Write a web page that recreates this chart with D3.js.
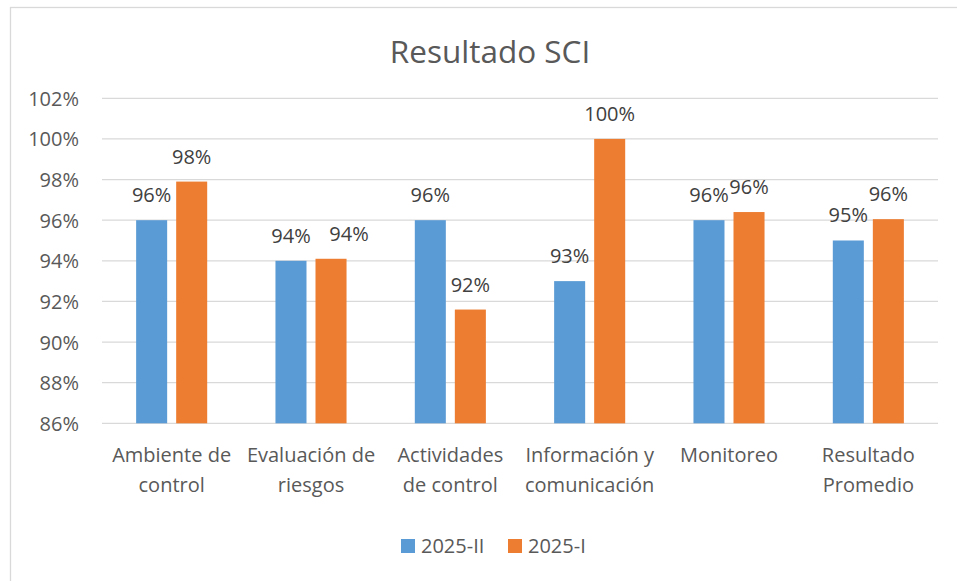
<!DOCTYPE html>
<meta charset="utf-8">
<style>
body { margin: 0; background: #fff; }
text { font-family: "Open Sans", sans-serif; }
.grid line { stroke: #d9d9d9; stroke-width: 1.3; }
.ylab text { fill: #595959; font-size: 20px; }
.xlab text { fill: #595959; font-size: 20px; }
.val { fill: #404040; font-size: 20px; }
</style>
<svg width="957" height="581"></svg>
<script src="https://d3js.org/d3.v7.min.js"></script>
<script>

var categories = [
  ["Ambiente de", "control"],
  ["Evaluación de", "riesgos"],
  ["Actividades", "de control"],
  ["Información y", "comunicación"],
  ["Monitoreo"],
  ["Resultado", "Promedio"]
];
var seriesNames = ["2025-II", "2025-I"];
var s2025II = [96, 94, 96, 93, 96, 95];
var s2025I = [97.9, 94.1, 91.6, 100, 96.4, 96.05];
var seriesColors = ["#5B9BD5", "#ED7D31"];
var yTicks = [86, 88, 90, 92, 94, 96, 98, 100, 102];

var svg = d3.select("svg"),
    width = +svg.attr("width"),
    height = +svg.attr("height");

// chart frame
svg.append("rect")
    .attr("x", 10.5).attr("y", 7.5)
    .attr("width", 1000).attr("height", 700)
    .attr("fill", "#fff")
    .attr("stroke", "#d9d9d9")
    .attr("stroke-width", 1.3);

svg.append("text")
    .attr("x", 490)
    .attr("y", 63)
    .attr("text-anchor", "middle")
    .attr("fill", "#595959")
    .style("font-size", "31.5px")
    .text("Resultado SCI");

var plotL = 102, plotR = 938, plotT = 98.3, plotB = 423.3;

var y = d3.scaleLinear()
    .domain([86, 102])
    .range([plotB, plotT]);

var x0 = d3.scaleBand()
    .domain(d3.range(categories.length))
    .range([plotL, plotR])
    .padding(0);

var groupW = x0.bandwidth() * 0.51;
var x1 = d3.scaleBand()
    .domain(seriesNames)
    .range([(x0.bandwidth() - groupW) / 2, (x0.bandwidth() + groupW) / 2])
    .paddingInner(0.225)
    .paddingOuter(0);

var color = d3.scaleOrdinal().domain(seriesNames).range(seriesColors);

// gridlines
svg.append("g")
    .attr("class", "grid")
  .selectAll("line")
  .data(yTicks)
  .enter().append("line")
    .attr("x1", plotL).attr("x2", plotR)
    .attr("y1", function(d) { return y(d); })
    .attr("y2", function(d) { return y(d); });

// y labels
svg.append("g")
    .attr("class", "ylab")
    .attr("transform", "translate(79,0)")
    .call(d3.axisLeft(y).tickValues(yTicks).tickSize(0).tickPadding(0)
      .tickFormat(function(d) { return d + "%"; }))
    .call(function(g) { g.select(".domain").remove(); })
    .selectAll("text").attr("dy", "0.35em");

var rows = categories.map(function(c, i) {
  return [
    { key: seriesNames[0], value: s2025II[i], cat: i },
    { key: seriesNames[1], value: s2025I[i], cat: i }
  ];
});

var groups = svg.append("g")
  .selectAll("g")
  .data(rows)
  .enter().append("g")
    .attr("transform", function(d, i) { return "translate(" + x0(i) + ",0)"; });

groups.selectAll("rect")
  .data(function(d) { return d; })
  .enter().append("rect")
    .attr("x", function(d) { return x1(d.key); })
    .attr("width", x1.bandwidth())
    .attr("y", function(d) { return y(d.value); })
    .attr("height", function(d) { return y(86) - y(d.value); })
    .attr("fill", function(d) { return color(d.key); });

// the 2nd group's orange label is pushed right in the original to avoid overlap
function nudge(d) { return (d.cat === 1 && d.key === seriesNames[1]) ? 18 : 0; }

groups.selectAll("text")
  .data(function(d) { return d; })
  .enter().append("text")
    .attr("class", "val")
    .attr("text-anchor", "middle")
    .attr("x", function(d) { return x1(d.key) + x1.bandwidth() / 2 + nudge(d); })
    .attr("y", function(d) { return y(d.value) - 18; })
    .text(function(d) { return Math.round(d.value) + "%"; });

// category labels
var xl = svg.append("g").attr("class", "xlab");
xl.selectAll("text")
  .data(categories)
  .enter().append("text")
    .attr("text-anchor", "middle")
    .attr("x", function(d, i) { return x0(i) + x0.bandwidth() / 2; })
    .attr("y", 462)
  .selectAll("tspan")
  .data(function(d) { return d; })
  .enter().append("tspan")
    .attr("x", function() { return this.parentNode.getAttribute("x"); })
    .attr("dy", function(d, i) { return i ? 30 : 0; })
    .text(function(d) { return d; });

// legend
var legend = svg.append("g")
    .attr("transform", "translate(401,539)");
var lx = [0, 107];
seriesNames.forEach(function(s, i) {
  legend.append("rect")
      .attr("x", lx[i]).attr("y", 0)
      .attr("width", 14).attr("height", 14)
      .attr("fill", color(s));
  legend.append("text")
      .attr("x", lx[i] + 20).attr("y", 14)
      .attr("fill", "#595959")
      .style("font-size", "20px")
      .text(s);
});

</script>
